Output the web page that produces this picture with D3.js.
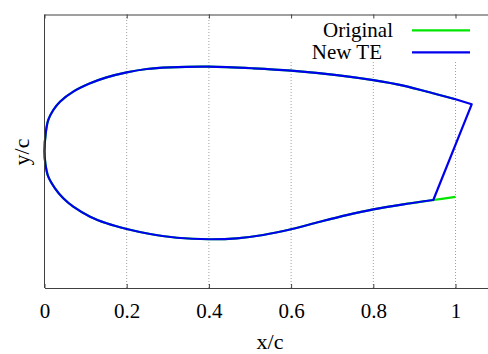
<!DOCTYPE html>
<html>
<head>
<meta charset="utf-8">
<script src="https://cdn.jsdelivr.net/npm/d3@7"></script>
<style>
  body { margin: 0; background: #fff; }
  text { font-family: "Liberation Serif", "Times New Roman", serif; fill: #000; }
</style>
</head>
<body>
<div id="chart"></div>
<script>
// original airfoil, upper TE -> leading edge -> lower TE
var originalX = [1.0, 0.954, 0.873, 0.8, 0.711, 0.6, 0.508, 0.4, 0.305, 0.249, 0.2, 0.151, 0.111, 0.07, 0.0377, 0.0214, 0.0092, 0.003, 0,
                 0.002, 0.0092, 0.0255, 0.0457, 0.07, 0.111, 0.151, 0.2, 0.257, 0.322, 0.4, 0.468, 0.532, 0.6, 0.67, 0.735, 0.8, 0.873, 0.946, 1.0];
var originalY = [0.114, 0.125, 0.144, 0.156, 0.167, 0.177, 0.182, 0.1855, 0.184, 0.1805, 0.173, 0.162, 0.149, 0.1307, 0.1087, 0.0905, 0.0686, 0.040, 0.0,
                 -0.0264, -0.0558, -0.0813, -0.1032, -0.1217, -0.1436, -0.158, -0.1706, -0.1815, -0.1897, -0.193, -0.191, -0.1837, -0.1712, -0.1546, -0.140, -0.1274, -0.1164, -0.107, -0.100];

// new trailing edge, upper TE -> leading edge -> lower TE (closed back to upper TE)
var newTeX = [1.0394, 1.0, 0.954, 0.873, 0.8, 0.711, 0.6, 0.508, 0.4, 0.305, 0.249, 0.2, 0.151, 0.111, 0.07, 0.0377, 0.0214, 0.0092, 0.003, 0,
              0.002, 0.0092, 0.0255, 0.0457, 0.07, 0.111, 0.151, 0.2, 0.257, 0.322, 0.4, 0.468, 0.532, 0.6, 0.67, 0.735, 0.8, 0.873, 0.946];
var newTeY = [0.103, 0.114, 0.125, 0.144, 0.156, 0.167, 0.177, 0.182, 0.1855, 0.184, 0.1805, 0.173, 0.162, 0.149, 0.1307, 0.1087, 0.0905, 0.0686, 0.040, 0.0,
              -0.0264, -0.0558, -0.0813, -0.1032, -0.1217, -0.1436, -0.158, -0.1706, -0.1815, -0.1897, -0.193, -0.191, -0.1837, -0.1712, -0.1546, -0.140, -0.1274, -0.1164, -0.107];

var xTicks = [0, 0.2, 0.4, 0.6, 0.8, 1];
var xTickLabels = ['0', '0.2', '0.4', '0.6', '0.8', '1'];
var seriesNames = ['Original', 'New TE'];
var seriesColors = ['#00e600', '#0000ee'];

var svgWidth = 488, svgHeight = 354;
var margin = {top: 14.5, left: 44.5, bottom: 66};

var svg = d3.select('#chart').append('svg')
  .attr('width', svgWidth)
  .attr('height', svgHeight);

var x = d3.scaleLinear().domain([0, 1.1]).range([margin.left, margin.left + 1.1 * 411]);
var y = d3.scaleLinear().domain([-0.3, 0.3]).range([svgHeight - margin.bottom, margin.top]);

var plotBottom = y(-0.3), plotTop = y(0.3);

// vertical dotted grid
svg.append('g')
  .selectAll('line')
  .data(xTicks.slice(1))
  .enter().append('line')
  .attr('x1', d => x(d)).attr('x2', d => x(d))
  .attr('y1', plotBottom).attr('y2', plotTop)
  .attr('stroke', '#a0a0a0')
  .attr('stroke-width', 1)
  .attr('stroke-dasharray', '1,2');

// legend background hides the grid
svg.append('rect')
  .attr('x', 284).attr('y', plotTop + 0.5)
  .attr('width', 212).attr('height', 47)
  .attr('fill', '#fff');

var line = d3.line().x(d => x(d[0])).y(d => y(d[1])).curve(d3.curveCatmullRom.alpha(0.5));
var straight = d3.line().x(d => x(d[0])).y(d => y(d[1]));

var original = originalX.map((v, i) => [v, originalY[i]]);
var newTe = newTeX.map((v, i) => [v, newTeY[i]]);

svg.append('path')
  .attr('d', line(original))
  .attr('fill', 'none')
  .attr('stroke', seriesColors[0])
  .attr('stroke-width', 2.2);

svg.append('path')
  .attr('d', line(newTe.slice(1)))
  .attr('fill', 'none')
  .attr('stroke', seriesColors[1])
  .attr('stroke-width', 2.2);

// straight pieces at the new trailing edge
svg.append('path')
  .attr('d', straight([newTe[newTe.length - 1], newTe[0], newTe[1]]))
  .attr('fill', 'none')
  .attr('stroke', seriesColors[1])
  .attr('stroke-width', 2.2)
  .attr('stroke-linejoin', 'round')
  .attr('stroke-linecap', 'round');

// legend
var legendY = [30.3, 52.3];
var legendTextEnd = [393, 382];
seriesNames.forEach(function(name, i) {
  svg.append('text')
    .attr('x', legendTextEnd[i]).attr('y', legendY[i] + 7)
    .attr('text-anchor', 'end')
    .attr('font-size', 21)
    .text(name);
  svg.append('line')
    .attr('x1', 412).attr('x2', 470)
    .attr('y1', legendY[i]).attr('y2', legendY[i])
    .attr('stroke', seriesColors[i])
    .attr('stroke-width', 2.2);
});

// axes with inward ticks
var xAxis = d3.axisBottom(x)
  .tickValues(xTicks)
  .tickFormat((d, i) => xTickLabels[i])
  .tickSizeInner(-4)
  .tickSizeOuter(0);

var gx = svg.append('g')
  .attr('transform', 'translate(0,' + plotBottom + ')')
  .call(xAxis);
gx.selectAll('text')
  .attr('y', 30).attr('dy', null)
  .attr('font-size', 21)
  .attr('font-family', '"Liberation Serif", serif')
  .attr('fill', '#000');

svg.append('g')
  .attr('transform', 'translate(0,' + plotTop + ')')
  .call(d3.axisTop(x).tickValues(xTicks).tickFormat('').tickSizeInner(-4).tickSizeOuter(0));

svg.selectAll('.domain').attr('stroke', '#404040');
svg.selectAll('.tick line').attr('stroke', '#404040');

svg.append('line')
  .attr('x1', x(0)).attr('x2', x(0))
  .attr('y1', plotTop).attr('y2', plotBottom)
  .attr('stroke', '#404040');

// axis titles
svg.append('text')
  .attr('x', 270).attr('y', 349)
  .attr('text-anchor', 'middle')
  .attr('font-size', 22)
  .text('x/c');

svg.append('text')
  .attr('transform', 'translate(29,152) rotate(-90)')
  .attr('text-anchor', 'middle')
  .attr('font-size', 22)
  .text('y/c');
</script>
</body>
</html>
